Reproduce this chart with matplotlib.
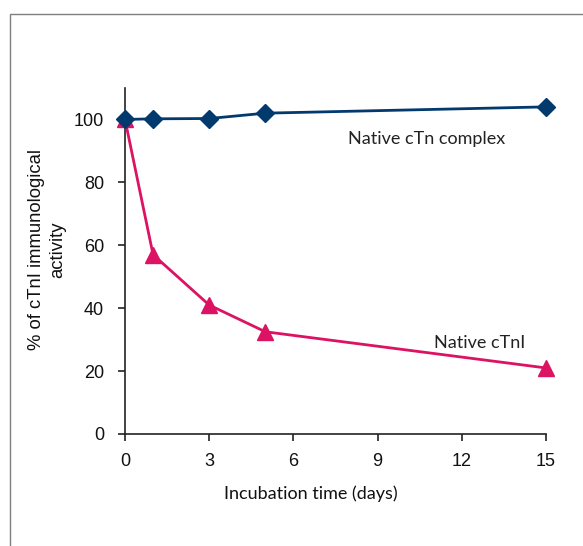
import matplotlib
matplotlib.use("Agg")
import matplotlib.pyplot as plt
from matplotlib.patches import Rectangle

days = [0, 1, 3, 5, 15]
complex_vals = [100, 100.2, 100.3, 102, 104]
ctni_vals = [100, 57, 41, 32.5, 21]
xticks = [0, 3, 6, 9, 12, 15]
yticks = [0, 20, 40, 60, 80, 100]

navy = "#033a6e"
pink = "#dc1262"

W, H = 583, 546
fig = plt.figure(figsize=(W / 100, H / 100), dpi=100)
fig.patches.append(Rectangle((10 / W, -0.2), 1.2, 1 - 14 / H + 0.2, transform=fig.transFigure,
                             fill=False, edgecolor="#7f7f7f", lw=1.0))

ax = fig.add_axes([125 / W, 1 - 434 / H, (546 - 125) / W, (434 - 88) / H])
ax.plot(days, ctni_vals, color=pink, lw=2.0, marker="^", markersize=12, zorder=3, clip_on=False)
ax.plot(days, complex_vals, color=navy, lw=2.0, marker="D", markersize=9, zorder=4, clip_on=False)
ax.set_xlim(0, 15)
ax.set_ylim(0, 110)
ax.set_xticks(xticks)
ax.set_yticks(yticks)
for s in ["top", "right"]:
    ax.spines[s].set_visible(False)
for s in ["left", "bottom"]:
    ax.spines[s].set_linewidth(1.2)
    ax.spines[s].set_color("#222222")
ax.tick_params(direction="out", length=5, width=1.2, labelsize=13, colors="#222222")
ax.tick_params(axis="x", pad=9)
ax.tick_params(axis="y", pad=10)
for lab in ax.get_xticklabels() + ax.get_yticklabels():
    lab.set_fontfamily("Liberation Sans")
    lab.set_color("#111111")

fig.text(311 / W, 1 - 494 / H, "Incubation time (days)", fontsize=13, family="Lato",
         ha="center", va="center", color="#111111")
fig.text(47 / W, 1 - 250 / H, "% of cTnI immunological\nactivity", fontsize=13.3,
         family="Liberation Sans", ha="center", va="center", rotation=90,
         multialignment="center", linespacing=1.35, color="#111111")

ax.text(10.75, 93.8, "Native cTn complex", fontsize=13, family="Lato", ha="center", va="center",
        color="#222222")
ax.text(12.65, 29.0, "Native cTnI", fontsize=13, family="Lato", ha="center", va="center",
        color="#222222")

fig.savefig("out.png", dpi=100)
